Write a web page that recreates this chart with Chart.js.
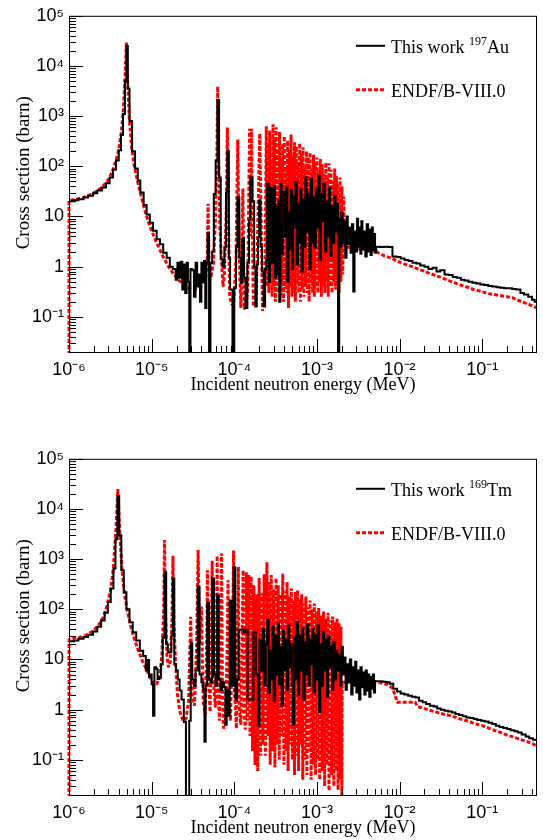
<!DOCTYPE html>
<html>
<head>
<meta charset="utf-8">
<title>Capture cross sections</title>
<script src="https://cdn.jsdelivr.net/npm/chart.js@4.4.1/dist/chart.umd.min.js"></script>
<style>
  html, body { margin: 0; padding: 0; background: #fff; }
  canvas { display: block; }
</style>
</head>
<body>
<canvas id="chartAu" width="543" height="443"></canvas>
<canvas id="chartTm" width="543" height="397"></canvas>
<script>
// Energies in MeV, cross sections in barn

// 197Au - this work (histogram, low bin edges)
const auWorkE = [
  1.0e-6, 1.15e-6, 1.3e-6, 1.5e-6, 1.7e-6, 1.95e-6, 2.2e-6, 2.5e-6, 2.8e-6, 3.1e-6,
  3.4e-6, 3.7e-6, 4.0e-6, 4.25e-6, 4.5e-6, 4.75e-6, 4.95e-6, 5.15e-6, 5.4e-6, 5.8e-6,
  6.3e-6, 6.8e-6, 7.3e-6, 8.0e-6, 8.7e-6, 9.5e-6, 1.04e-5, 1.15e-5, 1.26e-5, 1.38e-5,
  1.52e-5, 1.66e-5, 1.8e-5, 1.95e-5, 2.05e-5, 2.15e-5, 2.25e-5, 2.35e-5, 2.45e-5, 2.55e-5,
  2.65e-5, 2.75e-5, 2.85e-5, 2.95e-5, 3.1e-5, 3.25e-5, 3.4e-5, 3.55e-5, 3.7e-5, 3.85e-5,
  4.0e-5, 4.15e-5, 4.3e-5, 4.45e-5, 4.6e-5, 4.75e-5, 4.95e-5, 5.15e-5, 5.4e-5, 5.65e-5,
  5.95e-5, 6.25e-5, 6.55e-5, 6.85e-5, 7.2e-5, 7.6e-5, 7.95e-5, 8.25e-5, 8.6e-5, 8.9e-5,
  9.5e-5, 1.0e-4, 1.05e-4, 1.09e-4, 1.15e-4, 1.2e-4, 1.25e-4, 1.31e-4, 1.37e-4, 1.44e-4,
  1.51e-4, 1.56e-4, 1.66e-4, 1.74e-4, 1.8e-4, 1.87e-4, 1.94e-4, 2.0e-4, 2.08e-4, 2.16e-4,
  2.26e-4, 2.36e-4, 2.44e-4, 2.5e-4, 2.62e-4, 2.7e-4, 2.78e-4, 2.86e-4, 2.94e-4, 3.02e-4,
  3.1e-4, 3.2e-4, 3.3e-4, 3.4e-4, 3.5e-4, 3.62e-4, 3.74e-4, 3.86e-4, 3.98e-4, 4.1e-4,
  4.24e-4, 4.38e-4, 4.52e-4, 4.66e-4, 4.82e-4, 4.98e-4, 5.15e-4, 5.32e-4, 5.5e-4, 5.7e-4,
  5.9e-4, 6.1e-4, 6.3e-4, 6.5e-4, 6.75e-4, 7.0e-4, 7.25e-4, 7.5e-4, 7.8e-4, 8.1e-4,
  8.4e-4, 8.7e-4, 9.0e-4, 9.35e-4, 9.7e-4, 1.0e-3, 1.04e-3, 1.08e-3, 1.12e-3, 1.16e-3,
  1.2e-3, 1.25e-3, 1.3e-3, 1.35e-3, 1.4e-3, 1.45e-3, 1.5e-3, 1.56e-3, 1.62e-3, 1.68e-3,
  1.74e-3, 1.8e-3, 1.86e-3, 1.92e-3, 1.98e-3, 2.05e-3, 2.12e-3, 2.2e-3, 2.28e-3, 2.36e-3,
  2.45e-3, 2.55e-3, 2.65e-3, 2.75e-3, 2.85e-3, 2.95e-3, 3.05e-3, 3.15e-3, 3.25e-3, 3.35e-3,
  3.45e-3, 3.55e-3, 3.7e-3, 3.85e-3, 4.0e-3, 4.15e-3, 4.3e-3, 4.45e-3, 4.6e-3, 4.75e-3,
  4.9e-3, 5.05e-3, 5.2e-3, 5.8e-3, 6.5e-3, 7.3e-3, 8.2e-3, 9.2e-3, 0.0103, 0.0115,
  0.0128, 0.0143, 0.016, 0.0178, 0.02, 0.0223, 0.025, 0.028, 0.031, 0.035,
  0.039, 0.044, 0.049, 0.055, 0.061, 0.068, 0.076, 0.085, 0.095, 0.106,
  0.118, 0.132, 0.148, 0.165, 0.185, 0.207, 0.23, 0.258, 0.29, 0.32,
  0.36, 0.4, 0.43, 0.46
];
const auWorkXS = [
  20, 21, 22, 24, 26, 29, 33, 38, 46, 60,
  85, 130, 210, 420, 1100, 5000, 25000, 3500, 800, 200,
  90, 52, 30, 17, 11, 7.5, 5.2, 3.5, 2.8, 1.9,
  1.5, 1.0, 0.9, 0.55, 1.2, 0.6, 1.25, 0.35, 1.1, 0.3,
  1.2, 0.5, 0.01, 0.9, 0.85, 0.25, 1.2, 0.4, 0.7, 0.2,
  1.2, 0.5, 1.3, 0.15, 1.2, 4.6, 0.01, 1.2, 2, 28,
  130, 2100, 60, 1.4, 1.0, 2.5, 30, 200, 1.5, 0.35,
  0.01, 0.38, 2.5, 24, 1.5, 0.47, 3.7, 0.6, 0.15, 1.2,
  8.4, 60, 20, 1.0, 0.16, 1.1, 3.9, 21, 2.5, 0.8,
  0.16, 0.9, 1.35, 45, 0.5, 4, 37, 1.2, 2.4, 40,
  0.6, 16, 0.7, 21, 0.2, 45, 1.8, 8, 31, 4,
  38, 0.5, 12, 2.2, 33, 0.9, 25, 6, 48, 1.1,
  18, 3, 35, 0.8, 22, 2.5, 60, 5, 28, 0.9,
  57, 3, 24, 2.4, 35, 6, 65, 1.35, 28, 8,
  45, 2, 20, 4, 38, 1.6, 16, 3, 25, 5,
  18, 0.01, 9, 2.5, 12, 3, 8, 1.5, 10, 2.8,
  6, 1.9, 7, 0.32, 5, 2, 9, 2.5, 6, 1.8,
  8, 2.2, 5, 1.6, 7, 2, 5.5, 1.7, 6, 2.2,
  4.5, 1.9, 2.5, 2.45, 2.5, 2.45, 1.6, 1.55, 1.45, 1.35,
  1.3, 1.2, 1.15, 1.05, 1.0, 0.9, 0.95, 0.8, 0.85, 0.7,
  0.68, 0.62, 0.6, 0.55, 0.53, 0.5, 0.48, 0.46, 0.44, 0.43,
  0.41, 0.4, 0.39, 0.38, 0.37, 0.37, 0.36, 0.35, 0.3, 0.28,
  0.25, 0.22, 0.2, 0.19
];

// 197Au - ENDF/B-VIII.0
const auEndfE = [
  1.0e-6, 1.0e-6, 1.2e-6, 1.5e-6, 1.8e-6, 2.1e-6, 2.5e-6, 2.9e-6, 3.3e-6, 3.7e-6,
  4.0e-6, 4.3e-6, 4.55e-6, 4.8e-6, 4.95e-6, 5.1e-6, 5.35e-6, 5.7e-6, 6.2e-6, 6.8e-6,
  7.5e-6, 8.3e-6, 9.2e-6, 1.02e-5, 1.13e-5, 1.25e-5, 1.4e-5, 1.6e-5, 1.8e-5, 2.1e-5,
  2.5e-5, 2.9e-5, 3.3e-5, 3.7e-5, 4.1e-5, 4.5e-5, 4.7e-5, 4.82e-5, 4.95e-5, 5.2e-5,
  5.6e-5, 5.9e-5, 6.15e-5, 6.3e-5, 6.45e-5, 6.7e-5, 7.0e-5, 7.3e-5, 7.6e-5, 8.0e-5,
  8.25e-5, 8.5e-5, 8.8e-5, 9.3e-5, 9.8e-5, 1.05e-4, 1.1e-4, 1.15e-4, 1.2e-4, 1.27e-4,
  1.32e-4, 1.45e-4, 1.53e-4, 1.57e-4, 1.61e-4, 1.7e-4, 1.85e-4, 2.03e-4, 2.2e-4, 2.35e-4,
  2.44e-4, 2.5e-4, 2.56e-4, 2.62e-4, 2.68e-4, 2.74e-4, 2.8e-4, 2.87e-4, 2.94e-4, 3.0e-4,
  3.07e-4, 3.14e-4, 3.21e-4, 3.28e-4, 3.36e-4, 3.44e-4, 3.52e-4, 3.6e-4, 3.68e-4, 3.76e-4,
  3.85e-4, 3.94e-4, 4.03e-4, 4.12e-4, 4.22e-4, 4.32e-4, 4.42e-4, 4.52e-4, 4.63e-4, 4.74e-4,
  4.86e-4, 4.98e-4, 5.1e-4, 5.22e-4, 5.35e-4, 5.48e-4, 5.62e-4, 5.76e-4, 5.9e-4, 6.04e-4,
  6.18e-4, 6.33e-4, 6.48e-4, 6.64e-4, 6.8e-4, 6.97e-4, 7.14e-4, 7.31e-4, 7.49e-4, 7.67e-4,
  7.86e-4, 8.05e-4, 8.25e-4, 8.45e-4, 8.66e-4, 8.87e-4, 9.09e-4, 9.31e-4, 9.54e-4, 9.77e-4,
  1.0e-3, 1.025e-3, 1.05e-3, 1.075e-3, 1.1e-3, 1.13e-3, 1.16e-3, 1.19e-3, 1.22e-3, 1.25e-3,
  1.28e-3, 1.31e-3, 1.34e-3, 1.37e-3, 1.4e-3, 1.44e-3, 1.48e-3, 1.52e-3, 1.56e-3, 1.6e-3,
  1.64e-3, 1.68e-3, 1.72e-3, 1.76e-3, 1.8e-3, 1.85e-3, 1.9e-3, 1.95e-3, 2.0e-3, 2.05e-3,
  2.1e-3, 2.14e-3, 5.2e-3, 5.8e-3, 6.5e-3, 7.3e-3, 8.2e-3, 9.2e-3, 0.0103, 0.0115,
  0.013, 0.0147, 0.0166, 0.0187, 0.021, 0.024, 0.027, 0.031, 0.035, 0.04,
  0.046, 0.052, 0.06, 0.069, 0.079, 0.09, 0.103, 0.118, 0.135, 0.155,
  0.177, 0.2, 0.23, 0.26, 0.3, 0.34, 0.39, 0.46
];
const auEndfXS = [
  0.01, 21, 22, 24, 27, 31, 38, 50, 75, 130,
  220, 480, 1400, 8000, 30000, 6000, 1000, 250, 95, 48,
  25, 13, 7.5, 4.8, 3.2, 2.2, 1.5, 1.0, 0.75, 0.55,
  0.42, 0.36, 0.35, 0.38, 0.45, 0.6, 1.2, 18, 1.0, 0.6,
  1.2, 8, 150, 3900, 150, 6, 1.35, 0.4, 0.7, 15,
  590, 8, 0.25, 0.18, 0.17, 1.5, 340, 1.5, 0.15, 36,
  0.14, 0.3, 560, 4, 560, 0.16, 0.3, 450, 0.13, 0.5,
  630, 0.4, 300, 0.3, 520, 0.5, 120, 0.25, 690, 0.4,
  350, 0.2, 600, 0.6, 220, 0.3, 480, 0.25, 150, 0.5,
  280, 0.2, 400, 0.35, 90, 0.3, 330, 0.15, 210, 0.4,
  430, 0.25, 160, 0.3, 300, 0.2, 250, 0.45, 120, 0.3,
  290, 0.2, 180, 0.35, 240, 0.25, 100, 0.4, 200, 0.3,
  150, 0.2, 190, 0.5, 90, 0.3, 170, 0.25, 120, 0.4,
  150, 0.3, 80, 0.5, 140, 0.25, 110, 0.4, 70, 0.3,
  120, 0.5, 60, 0.25, 115, 0.4, 85, 0.3, 50, 0.5,
  90, 0.35, 65, 0.6, 45, 0.3, 60, 0.5, 40, 0.7,
  25, 2.5, 2.0, 1.8, 1.65, 1.55, 1.45, 1.3, 1.2, 1.12,
  1.05, 0.98, 0.9, 0.84, 0.78, 0.72, 0.67, 0.62, 0.57, 0.52,
  0.48, 0.44, 0.41, 0.38, 0.35, 0.33, 0.31, 0.29, 0.28, 0.27,
  0.26, 0.25, 0.24, 0.22, 0.2, 0.185, 0.17, 0.15
];

// 169Tm - this work (histogram, low bin edges)
const tmWorkE = [
  1.0e-6, 1.15e-6, 1.3e-6, 1.5e-6, 1.7e-6, 1.95e-6, 2.2e-6, 2.45e-6, 2.7e-6, 2.95e-6,
  3.2e-6, 3.45e-6, 3.65e-6, 3.85e-6, 4.05e-6, 4.3e-6, 4.6e-6, 4.95e-6, 5.4e-6, 5.9e-6,
  6.5e-6, 7.2e-6, 7.9e-6, 8.5e-6, 8.9e-6, 9.3e-6, 9.7e-6, 1.0e-5, 1.04e-5, 1.08e-5,
  1.13e-5, 1.18e-5, 1.24e-5, 1.3e-5, 1.36e-5, 1.43e-5, 1.5e-5, 1.57e-5, 1.65e-5, 1.73e-5,
  1.8e-5, 1.88e-5, 1.97e-5, 2.07e-5, 2.18e-5, 2.3e-5, 2.45e-5, 2.6e-5, 2.85e-5, 2.97e-5,
  3.1e-5, 3.25e-5, 3.4e-5, 3.6e-5, 3.8e-5, 4.0e-5, 4.2e-5, 4.35e-5, 4.5e-5, 4.7e-5,
  4.95e-5, 5.15e-5, 5.4e-5, 5.7e-5, 5.95e-5, 6.2e-5, 6.5e-5, 6.8e-5, 7.1e-5, 7.5e-5,
  7.8e-5, 8.1e-5, 8.45e-5, 8.8e-5, 9.3e-5, 9.8e-5, 1.03e-4, 1.08e-4, 1.13e-4, 1.3e-4,
  1.36e-4, 1.45e-4, 1.7e-4, 1.82e-4, 1.94e-4, 2.02e-4, 2.1e-4, 2.2e-4, 2.3e-4, 2.4e-4,
  2.5e-4, 2.6e-4, 2.7e-4, 2.8e-4, 2.9e-4, 3.0e-4, 3.12e-4, 3.24e-4, 3.36e-4, 3.48e-4,
  3.6e-4, 3.74e-4, 3.88e-4, 4.02e-4, 4.17e-4, 4.32e-4, 4.48e-4, 4.64e-4, 4.8e-4, 4.97e-4,
  5.1e-4, 5.3e-4, 5.5e-4, 5.7e-4, 5.9e-4, 6.1e-4, 6.35e-4, 6.6e-4, 6.85e-4, 7.1e-4,
  7.35e-4, 7.6e-4, 7.9e-4, 8.2e-4, 8.5e-4, 8.8e-4, 9.1e-4, 9.45e-4, 9.8e-4, 1.02e-3,
  1.06e-3, 1.1e-3, 1.14e-3, 1.18e-3, 1.22e-3, 1.27e-3, 1.32e-3, 1.37e-3, 1.42e-3, 1.47e-3,
  1.52e-3, 1.58e-3, 1.64e-3, 1.7e-3, 1.76e-3, 1.82e-3, 1.9e-3, 1.98e-3, 2.06e-3, 2.14e-3,
  2.22e-3, 2.3e-3, 2.4e-3, 2.5e-3, 2.6e-3, 2.7e-3, 2.8e-3, 2.9e-3, 3.0e-3, 3.12e-3,
  3.24e-3, 3.36e-3, 3.48e-3, 3.6e-3, 3.74e-3, 3.88e-3, 4.02e-3, 4.16e-3, 4.3e-3, 4.45e-3,
  4.6e-3, 4.75e-3, 4.9e-3, 5.05e-3, 5.6e-3, 6.2e-3, 6.9e-3, 7.6e-3, 8.4e-3, 9.3e-3,
  0.0103, 0.0114, 0.0127, 0.0141, 0.0156, 0.0172, 0.019, 0.021, 0.0233, 0.0258,
  0.0285, 0.0315, 0.035, 0.0387, 0.043, 0.0475, 0.0525, 0.058, 0.064, 0.071,
  0.079, 0.087, 0.097, 0.107, 0.119, 0.132, 0.146, 0.162, 0.18, 0.2,
  0.22, 0.245, 0.27, 0.3, 0.335, 0.37, 0.41, 0.46
];
const tmWorkXS = [
  23, 24, 26, 28, 31, 36, 45, 60, 85, 140,
  260, 650, 2500, 18000, 3000, 600, 220, 100, 55, 35,
  24, 15, 11.7, 6, 9.8, 4.5, 5, 3.2, 0.76, 7,
  6.5, 4.1, 4.3, 8, 27, 550, 20, 13.7, 14, 30,
  410, 8, 6, 4, 2.4, 1.6, 0.57, 0.01, 0.6, 21,
  4, 3, 6, 280, 5, 3.5, 2.5, 0.23, 3, 133,
  4, 3.5, 410, 5, 3, 190, 4, 2.5, 3.5, 2.8,
  0.5, 2.5, 0.76, 150, 3, 690, 1.6, 4, 39, 35,
  39, 1.6, 34, 5, 0.48, 25, 6, 40, 3, 20,
  61, 2.2, 15, 4, 45, 1.5, 30, 5, 52, 3.2,
  18, 1.2, 38, 6, 25, 2.5, 47, 7, 20, 3,
  0.5, 28, 4, 55, 2, 30, 6, 42, 1.6, 22,
  5, 50, 3, 25, 8, 40, 2.2, 30, 4, 48,
  0.9, 20, 3, 35, 6, 25, 1.8, 30, 7, 18,
  2.5, 22, 4, 15, 6, 12, 3, 18, 5, 11,
  2.5, 8, 3.5, 10, 2, 7, 3, 9, 2.2, 6,
  1.6, 7, 2.8, 5.5, 2, 6, 2.4, 5, 1.8, 4.5,
  2.6, 5, 2.2, 3.7, 3.7, 3.6, 3.5, 3.3, 2.6, 2.3,
  2.1, 2.0, 1.9, 1.8, 1.75, 1.5, 1.4, 1.3, 1.2, 1.15,
  1.05, 1.0, 0.95, 0.92, 0.88, 0.82, 0.78, 0.74, 0.7, 0.68,
  0.65, 0.62, 0.6, 0.58, 0.55, 0.52, 0.48, 0.45, 0.43, 0.41,
  0.39, 0.37, 0.35, 0.32, 0.29, 0.27, 0.25, 0.24
];

// 169Tm - ENDF/B-VIII.0
const tmEndfE = [
  1.0e-6, 1.0e-6, 1.2e-6, 1.4e-6, 1.7e-6, 2.0e-6, 2.3e-6, 2.6e-6, 2.9e-6, 3.2e-6,
  3.45e-6, 3.7e-6, 3.9e-6, 4.1e-6, 4.35e-6, 4.7e-6, 5.1e-6, 5.6e-6, 6.2e-6, 6.9e-6,
  7.7e-6, 8.6e-6, 9.5e-6, 1.05e-5, 1.15e-5, 1.25e-5, 1.33e-5, 1.4e-5, 1.43e-5, 1.47e-5,
  1.53e-5, 1.6e-5, 1.68e-5, 1.76e-5, 1.81e-5, 1.86e-5, 1.95e-5, 2.05e-5, 2.2e-5, 2.4e-5,
  2.6e-5, 2.8e-5, 2.97e-5, 3.1e-5, 3.3e-5, 3.5e-5, 3.65e-5, 3.8e-5, 4.0e-5, 4.2e-5,
  4.45e-5, 4.65e-5, 4.73e-5, 4.85e-5, 5.1e-5, 5.3e-5, 5.4e-5, 5.55e-5, 5.9e-5, 6.1e-5,
  6.2e-5, 6.35e-5, 6.6e-5, 6.9e-5, 7.0e-5, 7.2e-5, 7.4e-5, 7.8e-5, 8.2e-5, 8.4e-5,
  8.6e-5, 9.0e-5, 9.6e-5, 9.8e-5, 1.0e-4, 1.06e-4, 1.1e-4, 1.12e-4, 1.15e-4, 1.2e-4,
  1.25e-4, 1.28e-4, 1.31e-4, 1.36e-4, 1.4e-4, 1.44e-4, 1.5e-4, 1.55e-4, 1.6e-4, 1.66e-4,
  1.72e-4, 1.78e-4, 1.85e-4, 1.92e-4, 2.0e-4, 2.08e-4, 2.15e-4, 2.22e-4, 2.3e-4, 2.38e-4,
  2.48e-4, 2.56e-4, 2.64e-4, 2.72e-4, 2.8e-4, 2.9e-4, 3.0e-4, 3.1e-4, 3.2e-4, 3.3e-4,
  3.4e-4, 3.5e-4, 3.62e-4, 3.74e-4, 3.86e-4, 3.98e-4, 4.1e-4, 4.22e-4, 4.35e-4, 4.48e-4,
  4.62e-4, 4.76e-4, 4.9e-4, 5.05e-4, 5.2e-4, 5.35e-4, 5.5e-4, 5.66e-4, 5.83e-4, 6.0e-4,
  6.18e-4, 6.36e-4, 6.55e-4, 6.74e-4, 6.94e-4, 7.14e-4, 7.35e-4, 7.56e-4, 7.78e-4, 8.0e-4,
  8.25e-4, 8.5e-4, 8.75e-4, 9.0e-4, 9.3e-4, 9.6e-4, 9.9e-4, 1.02e-3, 1.05e-3, 1.08e-3,
  1.12e-3, 1.16e-3, 1.2e-3, 1.24e-3, 1.28e-3, 1.32e-3, 1.36e-3, 1.4e-3, 1.45e-3, 1.5e-3,
  1.55e-3, 1.6e-3, 1.65e-3, 1.7e-3, 1.75e-3, 1.8e-3, 1.85e-3, 1.9e-3, 1.95e-3, 2.0e-3,
  2.02e-3, 5.1e-3, 6.0e-3, 7.0e-3, 8.0e-3, 8.8e-3, 9.3e-3, 0.0155, 0.0165, 0.019,
  0.022, 0.026, 0.03, 0.035, 0.041, 0.048, 0.056, 0.065, 0.075, 0.087,
  0.1, 0.115, 0.132, 0.152, 0.175, 0.2, 0.23, 0.26, 0.3, 0.35,
  0.4, 0.46
];
const tmEndfXS = [
  0.01, 25, 27, 28, 32, 38, 50, 70, 120, 250,
  700, 4000, 25000, 4000, 700, 200, 90, 45, 25, 15,
  9.5, 6.5, 4.5, 3.3, 3.2, 4.5, 12, 100, 2400, 100,
  12, 7, 9, 60, 1170, 50, 8.7, 2, 0.9, 0.6,
  0.65, 1.5, 71, 2, 1.2, 20, 1520, 20, 113, 1.5,
  0.8, 30, 600, 5, 0.9, 60, 930, 4, 1.1, 40,
  1170, 3, 0.6, 60, 1300, 2, 0.42, 0.5, 20, 380,
  1.5, 0.6, 80, 1480, 3, 0.42, 50, 700, 1, 0.5,
  40, 600, 0.9, 0.4, 550, 0.6, 480, 0.3, 450, 0.15,
  300, 0.079, 200, 0.06, 420, 0.12, 210, 0.2, 500, 0.12,
  870, 0.3, 350, 0.08, 480, 0.15, 250, 0.07, 420, 0.2,
  300, 0.1, 200, 0.3, 520, 0.08, 230, 0.15, 350, 0.06,
  180, 0.2, 260, 0.1, 150, 0.05, 220, 0.12, 240, 0.06,
  160, 0.2, 200, 0.04, 130, 0.1, 180, 0.05, 110, 0.15,
  150, 0.04, 100, 0.08, 130, 0.05, 90, 0.1, 106, 0.04,
  75, 0.06, 90, 0.03, 65, 0.08, 85, 0.024, 60, 0.05,
  72, 0.03, 55, 0.06, 65, 0.025, 53, 0.04, 45, 0.02,
  3.5, 3.6, 3.4, 3.2, 2.8, 2.0, 1.4, 1.4, 1.15, 1.08,
  1.0, 0.92, 0.86, 0.8, 0.76, 0.7, 0.64, 0.6, 0.55, 0.51,
  0.48, 0.44, 0.4, 0.37, 0.34, 0.31, 0.29, 0.27, 0.25, 0.23,
  0.21, 0.19
];

// axis ranges
const xRange = [1e-6, 0.46];
const yRange = [0.019, 1e5];

const SUP = {'-': '\u207B', '0': '\u2070', '1': '\u00B9', '2': '\u00B2', '3': '\u00B3',
  '4': '\u2074', '5': '\u2075', '6': '\u2076', '7': '\u2077', '8': '\u2078', '9': '\u2079'};

function decadeLabel(v) {
  const l = Math.log10(v);
  const n = Math.round(l);
  if (Math.abs(l - n) > 1e-6) return '';
  if (n === 0) return '1';
  if (n === 1) return '10';
  return '10' + String(n).split('').map(c => SUP[c]).join('');
}

// 0: no mark, 1: minor tick (2..9), 2: major tick (decade)
function tickKind(v) {
  const e = Math.floor(Math.log10(v) + 1e-9);
  const m = v / Math.pow(10, e);
  const r = Math.round(m);
  if (Math.abs(m - r) > 1e-6 || r < 1 || r > 9) return 0;
  return r === 1 ? 2 : 1;
}

const serif = '"Liberation Serif", "Times New Roman", serif';
Chart.defaults.font.family = '"Liberation Sans", Arial, sans-serif';
Chart.defaults.color = '#000';

// frame, inward ticks, y title and legend drawn in ROOT style
const rootStyle = {
  id: 'rootStyle',
  afterDraw(chart, args, opts) {
    const {ctx, chartArea: a, scales: {x, y}} = chart;
    ctx.save();
    ctx.setLineDash([]);
    ctx.strokeStyle = '#000';
    ctx.lineWidth = 1;
    ctx.strokeRect(a.left + 0.5, a.top + 0.5, a.right - a.left - 1, a.bottom - a.top - 1);

    ctx.beginPath();
    x.ticks.forEach(t => {
      const k = tickKind(t.value);
      if (!k) return;
      const px = Math.round(x.getPixelForValue(t.value)) + 0.5;
      ctx.moveTo(px, a.bottom);
      ctx.lineTo(px, a.bottom - (k === 2 ? 14 : 7));
    });
    y.ticks.forEach(t => {
      const k = tickKind(t.value);
      if (!k) return;
      const py = Math.round(y.getPixelForValue(t.value)) + 0.5;
      ctx.moveTo(a.left, py);
      ctx.lineTo(a.left + (k === 2 ? 14 : 7), py);
    });
    ctx.stroke();

    // y axis title
    ctx.save();
    ctx.translate(24, a.top + 157);
    ctx.rotate(-Math.PI / 2);
    ctx.font = '19px ' + serif;
    ctx.fillStyle = '#000';
    ctx.textAlign = 'center';
    ctx.textBaseline = 'middle';
    ctx.fillText('Cross section (barn)', 0, 0);
    ctx.restore();

    // legend
    const lx0 = a.right - 181, lx1 = a.right - 152, tx = a.right - 146;
    const y1 = a.top + 30, y2 = a.top + 74;
    ctx.lineWidth = 2;
    ctx.strokeStyle = '#000';
    ctx.beginPath();
    ctx.moveTo(lx0, y1);
    ctx.lineTo(lx1, y1);
    ctx.stroke();
    ctx.lineWidth = 3;
    ctx.strokeStyle = 'rgb(255,0,0)';
    ctx.setLineDash([4, 2]);
    ctx.beginPath();
    ctx.moveTo(lx0, y2);
    ctx.lineTo(lx1, y2);
    ctx.stroke();
    ctx.setLineDash([]);

    ctx.fillStyle = '#000';
    ctx.textAlign = 'left';
    ctx.textBaseline = 'alphabetic';
    ctx.font = '18px ' + serif;
    const head = 'This work ';
    ctx.fillText(head, tx, y1 + 7);
    let cx = tx + ctx.measureText(head).width;
    ctx.font = '12px ' + serif;
    ctx.fillText(opts.mass, cx, y1 - 1);
    cx += ctx.measureText(opts.mass).width;
    ctx.font = '18px ' + serif;
    ctx.fillText(opts.element, cx, y1 + 7);
    ctx.fillText('ENDF/B-VIII.0', tx, y2 + 7);
    ctx.restore();
  }
};

function pairs(es, vs) {
  return es.map((e, i) => ({x: e, y: vs[i]}));
}

function makeChart(id, workE, workXS, endfE, endfXS, mass, element, padBottom) {
  const ctx = document.getElementById(id).getContext('2d');
  return new Chart(ctx, {
    type: 'line',
    data: {
      datasets: [{
        label: 'This work ' + mass + element,
        data: pairs(workE, workXS),
        borderColor: '#000',
        borderWidth: 2,
        pointRadius: 0,
        stepped: 'before',
        fill: false,
        clip: 0
      }, {
        label: 'ENDF/B-VIII.0',
        data: pairs(endfE, endfXS),
        borderColor: 'rgb(255,0,0)',
        borderWidth: 3,
        borderDash: [4, 2],
        borderJoinStyle: 'bevel',
        pointRadius: 0,
        tension: 0,
        fill: false,
        clip: {left: 2, top: 0, right: 0, bottom: 0}
      }]
    },
    options: {
      responsive: false,
      animation: false,
      devicePixelRatio: 1,
      events: [],
      layout: {padding: {top: 13, right: 5, bottom: padBottom, left: 0}},
      scales: {
        x: {
          type: 'logarithmic',
          min: xRange[0],
          max: xRange[1],
          grid: {display: false, drawTicks: false},
          border: {display: false},
          ticks: {
            autoSkip: false,
            maxRotation: 0,
            padding: 6,
            font: {size: 18},
            callback: v => decadeLabel(v)
          },
          title: {
            display: true,
            text: 'Incident neutron energy (MeV)',
            font: {family: serif, size: 18},
            padding: {top: 0, bottom: 1}
          },
          afterFit: s => { s.height = 44; }
        },
        y: {
          type: 'logarithmic',
          min: yRange[0],
          max: yRange[1],
          grid: {display: false, drawTicks: false},
          border: {display: false},
          ticks: {
            autoSkip: false,
            padding: 5,
            font: {size: 18},
            callback: v => decadeLabel(v)
          },
          afterFit: s => { s.width = 69; }
        }
      },
      plugins: {
        legend: {display: false},
        tooltip: {enabled: false},
        rootStyle: {mass: mass, element: element}
      }
    },
    plugins: [rootStyle]
  });
}

makeChart('chartAu', auWorkE, auWorkXS, auEndfE, auEndfXS, '197', 'Au', 46);
makeChart('chartTm', tmWorkE, tmWorkXS, tmEndfE, tmEndfXS, '169', 'Tm', 0);
</script>
</body>
</html>
